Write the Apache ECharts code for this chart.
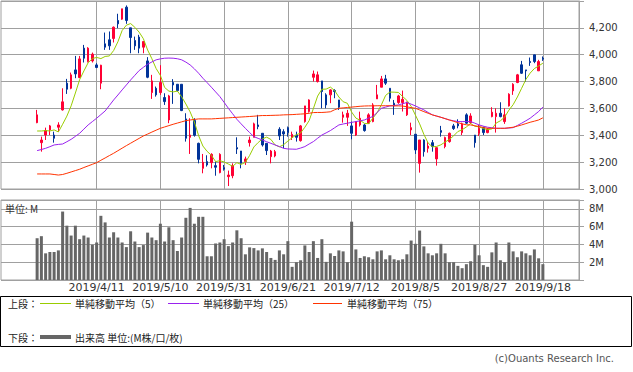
<!DOCTYPE html>
<html><head><meta charset="utf-8">
<script src="https://cdn.jsdelivr.net/npm/echarts@6/dist/echarts.min.js"></script>
<style>html,body{margin:0;padding:0;background:#fff}#c{width:633px;height:372px}</style>
</head><body><div id="c"></div>
<script>
// ---- data ----
const dates = [
'2019/3/22','2019/3/25','2019/3/26','2019/3/27','2019/3/28','2019/3/29',
'2019/4/1','2019/4/2','2019/4/3','2019/4/4','2019/4/5',
'2019/4/8','2019/4/9','2019/4/10','2019/4/11','2019/4/12',
'2019/4/15','2019/4/16','2019/4/17','2019/4/18','2019/4/19',
'2019/4/22','2019/4/23','2019/4/24','2019/4/25','2019/4/26',
'2019/5/7','2019/5/8','2019/5/9','2019/5/10',
'2019/5/13','2019/5/14','2019/5/15','2019/5/16','2019/5/17',
'2019/5/20','2019/5/21','2019/5/22','2019/5/23','2019/5/24',
'2019/5/27','2019/5/28','2019/5/29','2019/5/30','2019/5/31',
'2019/6/3','2019/6/4','2019/6/5','2019/6/6','2019/6/7',
'2019/6/10','2019/6/11','2019/6/12','2019/6/13','2019/6/14',
'2019/6/17','2019/6/18','2019/6/19','2019/6/20','2019/6/21',
'2019/6/24','2019/6/25','2019/6/26','2019/6/27','2019/6/28',
'2019/7/1','2019/7/2','2019/7/3','2019/7/4','2019/7/5',
'2019/7/8','2019/7/9','2019/7/10','2019/7/11','2019/7/12',
'2019/7/16','2019/7/17','2019/7/18','2019/7/19',
'2019/7/22','2019/7/23','2019/7/24','2019/7/25','2019/7/26',
'2019/7/29','2019/7/30','2019/7/31','2019/8/1','2019/8/2',
'2019/8/5','2019/8/6','2019/8/7','2019/8/8','2019/8/9',
'2019/8/13','2019/8/14','2019/8/15','2019/8/16',
'2019/8/19','2019/8/20','2019/8/21','2019/8/22','2019/8/23',
'2019/8/26','2019/8/27','2019/8/28','2019/8/29','2019/8/30',
'2019/9/2','2019/9/3','2019/9/4','2019/9/5','2019/9/6',
'2019/9/9','2019/9/10','2019/9/11','2019/9/12','2019/9/13',
'2019/9/17','2019/9/18'];

const opens = [3494,3345,3402,3440,3402,3460,3589,3788,3750,3887,3830,4049,3949,3954,3924,3788,
4081,4111,4121,4255,4265,4354,4200,4106,4131,4056,3954,3718,3750,3718,3681,3514,3793,3780,3780,3522,
3385,3510,3340,3154,3204,3196,3174,3122,3159,3092,3099,3308,3283,3204,3345,3385,3477,3415,3340,3241,
3246,3445,3427,3457,3385,3402,3360,3502,3577,3832,3800,3805,3701,3701,3733,3663,3534,3534,3470,3402,
3477,3477,3490,3502,3671,3758,3820,3750,3639,3644,3644,3552,3440,3408,3191,3365,3303,3345,3224,3435,
3316,3353,3470,3485,3420,3552,3494,3402,3415,3457,3420,3539,3539,3564,3502,3619,3731,3793,3925,3887,
3949,3999,3880,3974];
const closes = [3552,3365,3435,3470,3378,3477,3649,3743,3850,3857,3969,3974,4049,4004,3905,3922,
4056,4066,4205,4230,4342,4255,4128,4066,4049,4098,3832,3805,3701,3793,3651,3693,3775,3733,3584,3378,
3402,3400,3221,3199,3179,3258,3162,3258,3147,3104,3174,3298,3191,3224,3365,3485,3465,3328,3286,3283,
3278,3395,3410,3420,3407,3385,3470,3619,3663,3857,3850,3726,3626,3738,3726,3609,3552,3564,3415,3502,
3527,3435,3552,3626,3701,3820,3788,3676,3619,3693,3668,3644,3457,3291,3365,3278,3320,3316,3308,3422,
3383,3415,3450,3470,3485,3490,3544,3345,3452,3420,3447,3572,3564,3539,3552,3706,3780,3850,3862,3880,
3942,3949,3949,3967];
const lows = [3490,3278,3365,3402,3345,3427,3584,3708,3743,3825,3825,3942,3942,3942,3900,3743,
4036,4036,4091,4198,4260,4230,4011,4036,4011,4011,3825,3671,3688,3701,3626,3490,3634,3726,3580,3353,
3261,3390,3191,3117,3167,3154,3099,3117,3137,3022,3080,3261,3154,3179,3316,3385,3445,3316,3253,3191,
3236,3365,3303,3390,3365,3353,3353,3494,3569,3800,3793,3601,3601,3639,3676,3589,3494,3470,3370,3395,
3465,3427,3485,3497,3671,3758,3775,3651,3552,3634,3577,3544,3402,3261,3122,3241,3271,3278,3174,3390,
3303,3345,3440,3452,3402,3485,3485,3308,3395,3402,3415,3534,3420,3534,3485,3614,3701,3788,3857,3800,
3917,3937,3880,3954];
const highs = [3589,3390,3457,3477,3427,3497,3750,3820,3867,3991,3991,4073,4056,4016,3937,3925,
4165,4173,4210,4305,4342,4367,4200,4135,4148,4098,3982,3850,3763,3922,3713,3701,3818,3780,3780,3564,
3527,3527,3345,3261,3251,3266,3204,3266,3179,3137,3191,3385,3283,3241,3390,3494,3552,3415,3340,3291,
3291,3460,3445,3465,3427,3427,3477,3619,3668,3882,3875,3805,3713,3743,3743,3663,3576,3589,3502,3502,
3576,3485,3564,3639,3775,3842,3850,3750,3663,3701,3733,3651,3494,3408,3365,3370,3353,3365,3308,3470,
3390,3420,3485,3519,3494,3564,3564,3402,3477,3465,3452,3609,3601,3646,3601,3713,3788,3857,3954,3887,
3979,3999,3962,3987];

// first four 5-day averages need earlier sessions
const ma5Head = [3432,3432,3435,3432];
const ma25 = [3286,3294,3303,3315,3328,3332,3335,3352,3370,3392,3415,3446,3477,3502,3527,3554,
3581,3622,3663,3700,3738,3775,3812,3847,3882,3906,3929,3946,3962,3969,3974,3975,3974,3970,3962,3945,
3924,3895,3862,3825,3792,3758,3723,3688,3645,3601,3560,3519,3485,3452,3420,3390,3377,3365,3352,3340,
3328,3316,3303,3298,3297,3296,3305,3316,3335,3353,3378,3402,3418,3435,3456,3477,3484,3490,3496,3502,
3508,3514,3528,3540,3570,3601,3610,3619,3622,3626,3635,3644,3632,3619,3604,3589,3570,3552,3543,3534,
3524,3514,3508,3502,3502,3502,3502,3490,3477,3468,3460,3456,3452,3452,3452,3454,3457,3473,3490,3508,
3527,3552,3577,3610];
const ma75 = [3112,3112,3112,3112,3108,3104,3108,3117,3127,3137,3147,3160,3172,3184,3196,3214,
3231,3249,3266,3285,3304,3323,3341,3359,3377,3395,3409,3424,3438,3452,3462,3472,3482,3491,3500,3509,
3514,3518,3522,3522,3522,3522,3524,3526,3528,3530,3532,3534,3536,3538,3540,3542,3545,3547,3547,3548,
3549,3550,3552,3553,3554,3556,3558,3560,3564,3569,3570,3570,3572,3575,3590,3601,3604,3607,3610,3613,
3616,3618,3619,3619,3620,3620,3620,3620,3619,3619,3618,3612,3606,3601,3589,3576,3564,3552,3543,3534,
3524,3514,3504,3494,3485,3478,3477,3471,3465,3458,3452,3452,3452,3452,3452,3456,3460,3468,3477,3487,
3497,3505,3514,3530];
// volume in millions
const volumes = [4.70,4.93,3.0,3.15,3.15,3.33,7.70,6.11,5.0,6.11,4.59,5.0,4.78,3.96,4.22,7.22,
6.48,4.78,5.37,4.78,4.22,3.70,5.48,4.33,3.70,3.93,5.33,4.78,4.48,6.33,4.33,5.93,4.48,3.26,4.78,7.0,
8.11,6.33,7.11,7.11,2.67,2.67,4.11,4.22,4.59,3.81,4.22,5.59,4.70,2.89,3.67,3.59,3.33,3.56,3.15,2.48,
2.26,3.33,2.89,4.37,1.48,2.0,2.22,3.89,3.15,4.37,2.48,4.59,2.04,3.0,2.7,3.33,3.22,2.0,6.56,3.44,
2.48,2.67,2.56,2.33,3.22,3.33,2.33,2.78,2.33,2.22,2.33,2.89,4.44,4.07,5.56,3.78,3.0,2.78,3.0,4.07,
3.0,2.0,2.0,1.59,1.33,1.78,2.11,3.96,2.78,1.67,1.48,3.11,4.22,2.22,2.0,4.22,3.22,2.56,3.22,3.0,
2.78,3.44,2.44,1.78];

const tickLabels = ['2019/4/11','2019/5/10','2019/5/31','2019/6/21','2019/7/12','2019/8/5','2019/8/27','2019/9/18'];
const maNames = ['単純移動平均（5）','単純移動平均（25）','単純移動平均（75）'];
const volumeName = '出来高 単位:(M株/口/枚)';
const unitText = '単位: M';
const upperTitle = '上段：';
const lowerTitle = '下段：';
const copyright = '(c)Ouants Research Inc.';

// ---- derived ----
const ma5 = closes.map((c, i) => {
  if (i < 4) return ma5Head[i];
  let s = 0; for (let k = i - 4; k <= i; k++) s += closes[k];
  return Math.round(s / 5);
});
const padBefore = [...Array(8)].map((_, k) => '_pre' + k);
const padAfter = [...Array(8)].map((_, k) => '_post' + k);
const cats = padBefore.concat(dates, padAfter);

const candleData = dates.map((d, i) => [d, opens[i], closes[i], lows[i], highs[i]]);
const lineData = arr => dates.map((d, i) => [d, arr[i]]);
const volData = dates.map((d, i) => [d, volumes[i]]);

const RED = '#ff0033', BLUE = '#003399', GRID = '#a0a0a0';
const C5 = '#99cc00', C25 = '#9922ee', C75 = '#ff3300', VOL = '#666666';
const vLines = tickLabels.map(t => ({ xAxis: t }));
const markGrid = {
  silent: true, symbol: ['none', 'none'], z: 1, animation: false,
  label: { show: false }, emphasis: { disabled: true },
  lineStyle: { color: GRID, width: 1, type: 'solid' },
  data: vLines
};
const FONT = 'DejaVu Sans';
const JP = 'Noto Sans CJK JP';

const chart = echarts.init(document.getElementById('c'), null, { renderer: 'svg' });
chart.setOption({
  animation: false,
  backgroundColor: '#ffffff',
  grid: [
    { left: 1, right: 54, top: 1, height: 188, show: true, borderColor: GRID, borderWidth: 1 },
    { left: 1, right: 54, top: 200, height: 80, show: true, borderColor: GRID, borderWidth: 1 }
  ],
  xAxis: [
    { type: 'category', gridIndex: 0, data: cats, boundaryGap: true,
      axisLine: { show: false }, axisTick: { show: false }, axisLabel: { show: false }, splitLine: { show: false } },
    { type: 'category', gridIndex: 1, data: cats, boundaryGap: true,
      axisLine: { show: false }, axisTick: { show: false }, splitLine: { show: false },
      axisLabel: { show: true, interval: (idx, val) => tickLabels.indexOf(val) >= 0,
        fontFamily: FONT, fontSize: 11, color: '#333', margin: 2 } }
  ],
  yAxis: [
    { type: 'value', gridIndex: 0, position: 'right', min: 3000, max: 4400, interval: 200,
      axisLine: { show: true, lineStyle: { color: GRID } },
      axisTick: { show: true, length: 5, lineStyle: { color: GRID } },
      splitLine: { show: true, lineStyle: { color: GRID, width: 1 } },
      axisLabel: { margin: 10, fontFamily: FONT, fontSize: 10, color: '#333',
        formatter: v => v >= 4400 ? '' : v.toLocaleString('en-US') } },
    { type: 'value', gridIndex: 1, position: 'right', min: 0, max: 9, interval: 2,
      axisLine: { show: true, lineStyle: { color: GRID } },
      axisTick: { show: true, length: 5, lineStyle: { color: GRID } },
      splitLine: { show: true, lineStyle: { color: GRID, width: 1 } },
      axisLabel: { margin: 10, fontFamily: FONT, fontSize: 10, color: '#333',
        formatter: v => (v === 0 || v > 8) ? '' : v + 'M' } }
  ],
  series: [
    { type: 'candlestick', name: 'price', xAxisIndex: 0, yAxisIndex: 0, data: candleData,
      encode: { x: 0, y: [1, 2, 3, 4] }, barWidth: 2,
      itemStyle: { color: RED, color0: BLUE, borderColor: RED, borderColor0: BLUE, borderWidth: 1 },
      markLine: markGrid },
    { type: 'line', name: maNames[0], xAxisIndex: 0, yAxisIndex: 0, data: lineData(ma5), showSymbol: false,
      symbol: 'none', lineStyle: { color: C5, width: 1 }, itemStyle: { color: C5 } },
    { type: 'line', name: maNames[1], xAxisIndex: 0, yAxisIndex: 0, data: lineData(ma25), showSymbol: false,
      symbol: 'none', lineStyle: { color: C25, width: 1 }, itemStyle: { color: C25 } },
    { type: 'line', name: maNames[2], xAxisIndex: 0, yAxisIndex: 0, data: lineData(ma75), showSymbol: false,
      symbol: 'none', lineStyle: { color: C75, width: 1 }, itemStyle: { color: C75 } },
    { type: 'bar', name: volumeName, xAxisIndex: 1, yAxisIndex: 1, data: volData, barWidth: 3,
      encode: { x: 0, y: 1 }, itemStyle: { color: VOL }, markLine: markGrid }
  ],
  graphic: [
    { type: 'text', left: 5, top: 203, z: 10, style: { text: unitText, font: '10px "' + JP + '"', fill: '#333' } },
    { type: 'rect', shape: { x: 0.5, y: 296.5, width: 631, height: 50 }, style: { fill: 'none', stroke: '#000', lineWidth: 1 } },
    { type: 'text', x: 8, y: 303, style: { text: upperTitle, font: '10px "' + JP + '"', fill: '#222', verticalAlign: 'middle' } },
    { type: 'line', shape: { x1: 40, y1: 303.5, x2: 71, y2: 303.5 }, style: { stroke: C5, lineWidth: 1 } },
    { type: 'text', x: 75, y: 303, style: { text: maNames[0], font: '10px "' + JP + '"', fill: '#222', verticalAlign: 'middle' } },
    { type: 'line', shape: { x1: 168, y1: 303.5, x2: 199, y2: 303.5 }, style: { stroke: C25, lineWidth: 1 } },
    { type: 'text', x: 203, y: 303, style: { text: maNames[1], font: '10px "' + JP + '"', fill: '#222', verticalAlign: 'middle' } },
    { type: 'line', shape: { x1: 313, y1: 303.5, x2: 342, y2: 303.5 }, style: { stroke: C75, lineWidth: 1 } },
    { type: 'text', x: 347, y: 303, style: { text: maNames[2], font: '10px "' + JP + '"', fill: '#222', verticalAlign: 'middle' } },
    { type: 'text', x: 8, y: 337, style: { text: lowerTitle, font: '10px "' + JP + '"', fill: '#222', verticalAlign: 'middle' } },
    { type: 'line', shape: { x1: 40, y1: 337, x2: 71, y2: 337 }, style: { stroke: VOL, lineWidth: 4 } },
    { type: 'text', x: 75, y: 337, style: { text: volumeName, font: '10px "' + JP + '"', fill: '#222', verticalAlign: 'middle' } },
    { type: 'text', x: 614, y: 358, style: { text: copyright, font: '10px "' + FONT + '"', fill: '#555', align: 'right', verticalAlign: 'middle' } }
  ]
});
</script></body></html>
